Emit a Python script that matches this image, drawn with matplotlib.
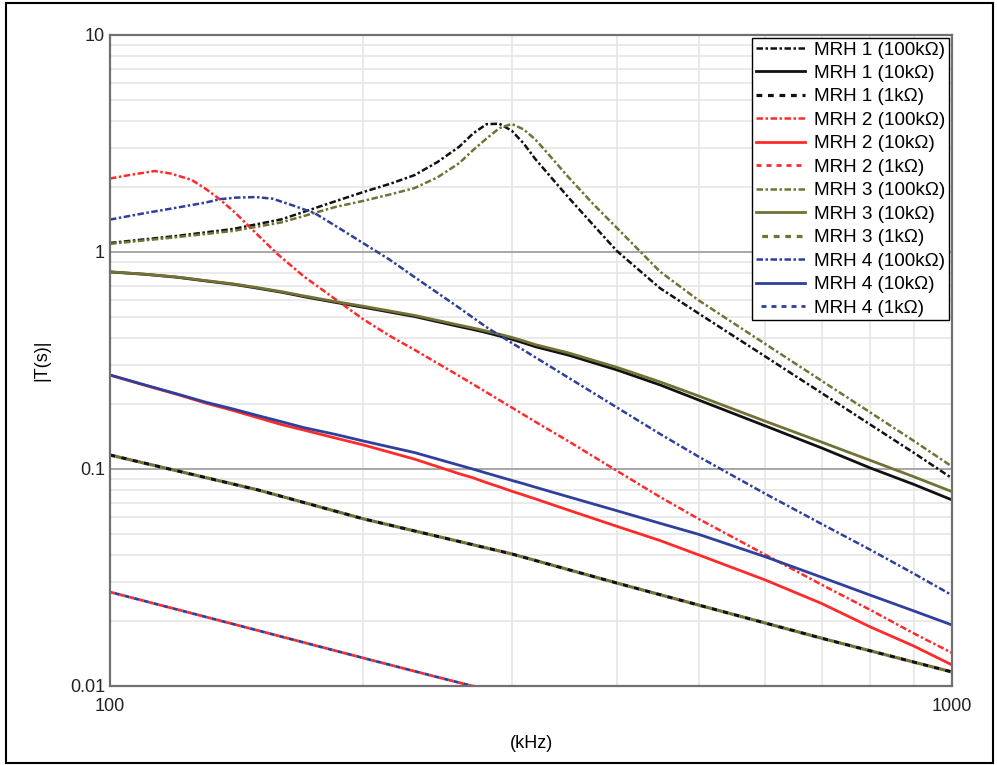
import matplotlib
matplotlib.use("Agg")
import matplotlib.pyplot as plt
from matplotlib.patches import Rectangle
from matplotlib.ticker import LogLocator, NullFormatter

plt.rcParams['font.family'] = ['Liberation Sans', 'DejaVu Sans']

# 周波数 [kHz]
f_khz = [100, 110, 120, 130, 140, 150, 160, 170, 185, 200, 230, 260, 270, 280,
         290, 300, 310, 320, 350, 400, 450, 500, 600, 700, 800, 900, 1000]
# ピーク付近を細かく読んだ周波数 (MRH1 / MRH3 100kΩ)
f_peak = [100, 120, 140, 160, 185, 200, 215, 230, 245, 260, 270, 280, 290, 300,
          310, 320, 335, 350, 375, 400, 450, 500, 600, 700, 800, 900, 1000]
f_red = [100, 106, 113, 118, 125, 130, 135, 141, 146, 158, 170, 187, 200, 215,
         230, 260, 280, 300, 320, 350, 400, 450, 500, 600, 700, 800, 900, 1000]
f_blue = [100, 110, 120, 130, 135, 141, 149, 156, 164, 175, 187, 200, 215, 230,
          260, 280, 300, 320, 350, 400, 450, 500, 600, 700, 800, 900, 1000]

mrh1_100k = [1.10, 1.185, 1.276, 1.415, 1.71, 1.89, 2.06, 2.26, 2.60, 3.06, 3.52, 3.88, 3.90, 3.62,
             3.16, 2.68, 2.18, 1.79, 1.33, 1.01, 0.681, 0.521, 0.330, 0.224, 0.160, 0.119, 0.0906]
mrh1_10k = [0.809, 0.789, 0.765, 0.735, 0.710, 0.680, 0.652, 0.622, 0.586, 0.556, 0.504, 0.453, 0.439, 0.425,
            0.410, 0.396, 0.381, 0.366, 0.335, 0.286, 0.244, 0.208, 0.158, 0.125, 0.101, 0.085, 0.072]

mrh2_100k = [2.18, 2.27, 2.36, 2.30, 2.15, 1.95, 1.75, 1.51, 1.32, 0.98, 0.77, 0.59, 0.489, 0.41,
             0.354, 0.268, 0.2256, 0.192, 0.165, 0.1345, 0.098, 0.0743, 0.0589, 0.0403, 0.0293, 0.0224,
             0.0175, 0.0142]
mrh2_10k = [0.271, 0.243, 0.221, 0.201, 0.186, 0.172, 0.160, 0.151, 0.139, 0.129, 0.111, 0.095, 0.091, 0.0865,
            0.0827, 0.079, 0.0758, 0.0728, 0.0647, 0.0544, 0.0468, 0.0402, 0.0308, 0.024, 0.0187, 0.0153, 0.0125]

mrh3_100k = [1.09, 1.17, 1.25, 1.37, 1.61, 1.72, 1.84, 1.97, 2.21, 2.57, 2.95, 3.33, 3.72, 3.89,
             3.67, 3.30, 2.70, 2.22, 1.66, 1.29, 0.812, 0.599, 0.377, 0.255, 0.182, 0.135, 0.1026]
mrh3_10k = [0.81, 0.79, 0.767, 0.738, 0.713, 0.684, 0.656, 0.627, 0.591, 0.562, 0.51, 0.46, 0.446, 0.432,
            0.418, 0.404, 0.389, 0.374, 0.343, 0.294, 0.252, 0.217, 0.166, 0.133, 0.1095, 0.0922, 0.0786]

mrh4_100k = [1.41, 1.51, 1.60, 1.69, 1.75, 1.78, 1.79, 1.76, 1.65, 1.51, 1.29, 1.096, 0.92, 0.766,
             0.552, 0.45, 0.381, 0.327, 0.264, 0.192, 0.145, 0.114, 0.0769, 0.0558, 0.0424, 0.033, 0.0262]
mrh4_10k = [0.271, 0.244, 0.222, 0.203, 0.189, 0.176, 0.165, 0.155, 0.1445, 0.1345, 0.119, 0.104, 0.0998, 0.0957,
            0.092, 0.0886, 0.0855, 0.0824, 0.0745, 0.0642, 0.0562, 0.050, 0.0394, 0.0317, 0.0262, 0.0222, 0.0191]

# 1kΩ は直線
f_1k = [100, 150, 200, 300, 400, 500, 700, 1000]
mrh1_1k = [0.116, 0.080, 0.0589, 0.0406, 0.0298, 0.0236, 0.0166, 0.0116]
mrh3_1k = [0.116, 0.080, 0.0589, 0.0406, 0.0298, 0.0236, 0.0166, 0.0116]
f_1k_low = [100, 150, 200, 250, 300]
mrh2_1k = [0.0271, 0.018, 0.01345, 0.01076, 0.0090]
mrh4_1k = [0.0271, 0.018, 0.01345, 0.01076, 0.0090]

BLACK = '#111111'
RED = '#ff2a2a'
OLIVE = '#727234'
BLUE = '#2f3f9c'

DASHDOT = (0, (2.6, 1.0, 1.0, 1.0))

fig = plt.figure(figsize=(9.97, 7.65), dpi=100)
ax = fig.add_axes([0.1103, 0.1033, 0.8446, 0.8510])

ax.plot(f_peak, mrh1_100k, color=BLACK, lw=1.8, ls=DASHDOT, label='MRH 1 (100k\u03a9)')
ax.plot(f_khz, mrh1_10k, color=BLACK, lw=2.0, ls='-', label='MRH 1 (10k\u03a9)')
ax.plot(f_1k, mrh1_1k, color=BLACK, lw=2.3, ls=(0, (1.8, 1.8)), label='MRH 1 (1k\u03a9)')
ax.plot(f_red, mrh2_100k, color=RED, lw=1.8, ls=DASHDOT, label='MRH 2 (100k\u03a9)')
ax.plot(f_khz, mrh2_10k, color=RED, lw=2.0, ls='-', label='MRH 2 (10k\u03a9)')
ax.plot(f_1k_low, mrh2_1k, color=RED, lw=2.0, ls=(0, (1.8, 1.8)), label='MRH 2 (1k\u03a9)')
ax.plot(f_peak, mrh3_100k, color=OLIVE, lw=1.8, ls=DASHDOT, label='MRH 3 (100k\u03a9)')
ax.plot(f_khz, mrh3_10k, color=OLIVE, lw=2.0, ls='-', label='MRH 3 (10k\u03a9)')
ax.plot(f_1k, mrh3_1k, color=OLIVE, lw=2.3, ls=(1.8, (1.8, 1.8)), label='MRH 3 (1k\u03a9)')
ax.plot(f_blue, mrh4_100k, color=BLUE, lw=1.8, ls=DASHDOT, label='MRH 4 (100k\u03a9)')
ax.plot(f_khz, mrh4_10k, color=BLUE, lw=2.0, ls='-', label='MRH 4 (10k\u03a9)')
ax.plot(f_1k_low, mrh4_1k, color=BLUE, lw=2.0, ls=(1.8, (1.8, 1.8)), label='MRH 4 (1k\u03a9)')

ax.set_xscale('log')
ax.set_yscale('log')
ax.set_xlim(100, 1000)
ax.set_ylim(0.01, 10)

ax.set_xticks([100, 1000])
ax.set_xticklabels(['100', '1000'])
ax.set_yticks([0.01, 0.1, 1, 10])
ax.set_yticklabels(['0.01', '0.1', '1', '10'])
ax.xaxis.set_minor_locator(LogLocator(base=10, subs=range(2, 10)))
ax.yaxis.set_minor_locator(LogLocator(base=10, subs=range(2, 10)))
ax.xaxis.set_minor_formatter(NullFormatter())
ax.yaxis.set_minor_formatter(NullFormatter())
ax.tick_params(which='both', length=0, labelsize=13, colors='#222222')
ax.tick_params(axis='x', pad=9)
ax.tick_params(axis='y', pad=3.6)

ax.set_axisbelow(True)
ax.grid(which='minor', color='#e4e4e4', lw=1.1)
ax.grid(which='major', axis='y', color='#a0a0a0', lw=1.3)

for s in ax.spines.values():
    s.set_color('#707070')
    s.set_linewidth(1.6)

ax.set_xlabel('(kHz)', fontsize=13, labelpad=14)
ax.set_ylabel('|T(s)|', fontsize=13, labelpad=14)

leg = ax.legend(loc='upper right', bbox_to_anchor=(0.996, 0.996), fontsize=13.6,
                fancybox=False, edgecolor='black', framealpha=1, borderpad=0.2,
                labelspacing=0.33, handlelength=2.6, handletextpad=0.45, borderaxespad=0)
leg.get_frame().set_linewidth(1.0)

# 外枠
fig.patches.append(Rectangle((6 / 997, 2 / 765), 987 / 997, 760 / 765, transform=fig.transFigure,
                             fill=False, edgecolor='black', lw=1.5))

fig.savefig('out.png', dpi=100)
